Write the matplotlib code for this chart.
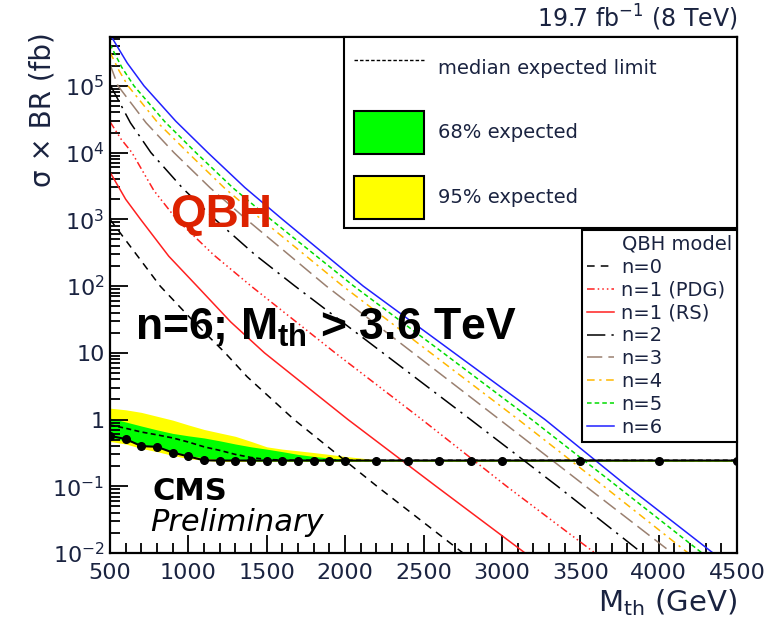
import numpy as np
import matplotlib
matplotlib.use("Agg")
import matplotlib.pyplot as plt
from matplotlib.lines import Line2D
from matplotlib.patches import Patch
from matplotlib.ticker import MultipleLocator, FixedLocator, NullFormatter, FuncFormatter

plt.rcParams['font.family'] = ['DejaVu Sans']
plt.rcParams['mathtext.fontset'] = 'custom'
plt.rcParams['mathtext.rm'] = 'DejaVu Sans'
plt.rcParams['mathtext.it'] = 'DejaVu Sans:italic'
plt.rcParams['mathtext.bf'] = 'Liberation Sans:bold'

# expected / observed limits (fb)
lim_mass = [500, 600, 700, 800, 900, 1000, 1100, 1200, 1300, 1400, 1500, 1600,
            1700, 1800, 1900, 2000, 2200, 2400, 2600, 2800, 3000, 3500, 4000, 4500]
observed = [0.57, 0.51, 0.40, 0.39, 0.32, 0.28, 0.245, 0.243, 0.243, 0.243, 0.243, 0.243,
            0.243, 0.243, 0.243, 0.243, 0.243, 0.243, 0.243, 0.243, 0.243, 0.243, 0.243, 0.243]
expected = [0.83, 0.74, 0.65, 0.59, 0.53, 0.46, 0.39, 0.345, 0.30, 0.27, 0.252, 0.247,
            0.245, 0.245, 0.245, 0.245, 0.245, 0.245, 0.245, 0.245, 0.245, 0.245, 0.245, 0.245]
band68_hi = [1.05, 0.92, 0.80, 0.70, 0.62, 0.57, 0.53, 0.48, 0.43, 0.39, 0.36, 0.33,
             0.30, 0.28, 0.265, 0.255, 0.245, 0.245, 0.245, 0.245, 0.245, 0.245, 0.245, 0.245]
band68_lo = [0.53, 0.48, 0.42, 0.38, 0.33, 0.29, 0.265, 0.25, 0.245, 0.24, 0.24, 0.24,
             0.24, 0.24, 0.24, 0.24, 0.24, 0.24, 0.24, 0.24, 0.24, 0.24, 0.24, 0.24]
band95_hi = [1.48, 1.40, 1.28, 1.12, 0.98, 0.83, 0.71, 0.63, 0.56, 0.47, 0.39, 0.36,
             0.34, 0.32, 0.30, 0.28, 0.25, 0.245, 0.245, 0.245, 0.245, 0.245, 0.245, 0.245]
band95_lo = [0.47, 0.43, 0.37, 0.33, 0.29, 0.26, 0.245, 0.235, 0.235, 0.235, 0.235, 0.235,
             0.235, 0.235, 0.235, 0.235, 0.235, 0.235, 0.235, 0.235, 0.235, 0.235, 0.235, 0.235]

# QBH model cross sections (fb)
n0_mass = [500, 647, 820, 1030, 1234, 1374, 1674, 2203, 2752]
n0_xs = [1000, 347, 100, 30, 10, 4.4, 1, 0.1, 0.01]
pdg_mass = [500, 570, 640, 780, 925, 1160, 1400, 1936, 2490, 3030, 3594]
pdg_xs = [2.9e4, 1.6e4, 1e4, 2.7e3, 1e3, 295, 100, 10, 1, 0.1, 0.01]
rs_mass = [500, 600, 695, 875, 1055, 1270, 1485, 2018, 2580, 3148]
rs_xs = [5.1e3, 2.0e3, 1e3, 280, 100, 29, 10, 1, 0.1, 0.01]
n2_mass = [500, 630, 761, 965, 1170, 1425, 1680, 2240, 2800, 3355, 3894]
n2_xs = [1.05e5, 2.8e4, 1e4, 2.9e3, 1e3, 295, 100, 10, 1, 0.1, 0.01]
n3_mass = [500, 551, 730, 908, 1140, 1370, 1880, 2433, 2985, 3535, 4086]
n3_xs = [2.1e5, 1e5, 2.8e4, 1e4, 2.95e3, 1e3, 100, 10, 1, 0.1, 0.01]
n4_mass = [500, 557, 615, 805, 997, 1230, 1465, 1985, 2545, 3105, 3650, 4188]
n4_xs = [3.2e5, 1.7e5, 1e5, 2.8e4, 1e4, 2.95e3, 1e3, 100, 10, 1, 0.1, 0.01]
n5_mass = [500, 575, 653, 850, 1048, 1285, 1525, 2055, 2625, 3190, 3735, 4277]
n5_xs = [4.2e5, 1.9e5, 1e5, 2.9e4, 1e4, 2.95e3, 1e3, 100, 10, 1, 0.1, 0.01]
n6_mass = [500, 610, 717, 920, 1124, 1360, 1600, 2115, 2695, 3275, 3800, 4347]
n6_xs = [5.9e5, 2.2e5, 1e5, 2.95e4, 1e4, 3.0e3, 1e3, 100, 10, 1, 0.1, 0.01]

# axis ticks
y_major = [1e-2, 1e-1, 1, 10, 1e2, 1e3, 1e4, 1e5]
y_minor = [m * d for d in y_major for m in range(2, 10) if m * d < 5.4e5]

fig = plt.figure(figsize=(7.77, 6.21), dpi=100)
ax = fig.add_axes([110/777, 1-553/621, 627/777, 516/621])

ax.fill_between(lim_mass, band95_lo, band95_hi, color='#ffff00', lw=0)
ax.fill_between(lim_mass, band68_lo, band68_hi, color='#00ff00', lw=0)

models = [
    (n0_mass, n0_xs, 'black', (0, (5, 4)), 'n=0'),
    (pdg_mass, pdg_xs, '#ff2020', (0, (5, 2, 1, 2, 1, 2, 1, 2)), 'n=1 (PDG)'),
    (rs_mass, rs_xs, '#ff2020', '-', 'n=1 (RS)'),
    (n2_mass, n2_xs, 'black', (0, (12, 4, 1.5, 4)), 'n=2'),
    (n3_mass, n3_xs, '#9a8070', (0, (10, 4)), 'n=3'),
    (n4_mass, n4_xs, '#ffb800', (0, (5, 3, 1.5, 3)), 'n=4'),
    (n5_mass, n5_xs, '#00dd00', (0, (3, 2)), 'n=5'),
    (n6_mass, n6_xs, '#2020ff', '-', 'n=6'),
]
model_lines = []
for m, xs, c, ls, lab in models:
    ln, = ax.plot(m, xs, color=c, ls=ls, lw=1.1, label=lab)
    model_lines.append(ln)

ax.plot(lim_mass, expected, color='black', ls=(0, (3, 2)), lw=1.2)
ax.plot(lim_mass, observed, color='black', lw=1.5, marker='o', ms=5.5)

ax.set_yscale('log')
ax.set_xlim(500, 4500)
ax.set_ylim(1e-2, 5.4e5)

ax.xaxis.set_major_locator(MultipleLocator(500))
ax.xaxis.set_minor_locator(MultipleLocator(100))
ax.yaxis.set_major_locator(FixedLocator(y_major))
ax.yaxis.set_minor_locator(FixedLocator(y_minor))
ax.yaxis.set_minor_formatter(NullFormatter())


def yfmt(v, pos):
    e = int(round(np.log10(v)))
    if e == 0:
        return '1'
    if e == 1:
        return '10'
    return r'$10^{%d}$' % e


ax.yaxis.set_major_formatter(FuncFormatter(yfmt))

txtcol = '#1a2340'
ax.tick_params(which='both', direction='in', top=False, right=False, width=1.3, colors='black',
               labelcolor=txtcol, labelsize=16)
ax.tick_params(axis='x', which='major', length=13, pad=7)
ax.tick_params(axis='x', which='minor', length=7)
ax.tick_params(axis='y', which='major', length=13, pad=4)
ax.tick_params(axis='y', which='minor', length=7)
for s in ax.spines.values():
    s.set_linewidth(1.6)

ax.set_ylabel('σ × BR (fb)', fontsize=20, color=txtcol, loc='top')
ax.yaxis.set_label_coords(-0.085, 1.01)
ax.set_xlabel(r'M$_{\rm th}$ (GeV)', fontsize=21, color=txtcol, loc='right')
ax.xaxis.set_label_coords(1.0, -0.066)

# legends
h1 = [Line2D([], [], color='black', ls=(0, (2.5, 1.5)), lw=1),
      Patch(facecolor='#00ff00', edgecolor='black', lw=1.5),
      Patch(facecolor='#ffff00', edgecolor='black', lw=1.5)]
leg1 = ax.legend(h1, ['median expected limit', '68% expected', '95% expected'],
                 loc='upper left', bbox_to_anchor=(0.373, 1.0, 0.627, 0), mode='expand',
                 borderaxespad=0, fontsize=14, handlelength=3.6, handleheight=3.0,
                 labelspacing=1.13, handletextpad=0.72, borderpad=0.5, fancybox=False,
                 edgecolor='black', framealpha=1, labelcolor=txtcol)
leg1.get_frame().set_linewidth(1.5)
ax.add_artist(leg1)

leg2 = ax.legend(model_lines, [ln.get_label() for ln in model_lines], title='QBH model',
                 loc='upper left', bbox_to_anchor=(0.753, 0.626, 0.247, 0), mode='expand',
                 borderaxespad=0, fontsize=14, title_fontsize=14, handlelength=1.4,
                 handletextpad=0.35, labelspacing=0.2, borderpad=0.25, fancybox=False,
                 edgecolor='black', framealpha=1, labelcolor=txtcol, alignment='right')
leg2.get_frame().set_linewidth(1.5)
leg2.get_title().set_color(txtcol)

ax.text(0.096, 0.632, 'QBH', transform=ax.transAxes, fontsize=33, fontweight='bold',
        color='#dd2200', va='baseline', family='Liberation Sans')
ax.text(0.040, 0.413, r'n=6; M$_{\mathbf{th}}$ > 3.6 TeV', transform=ax.transAxes,
        fontsize=32, fontweight='bold', color='black', va='baseline', family='Liberation Sans')
ax.text(0.067, 0.103, 'CMS', transform=ax.transAxes, fontsize=22, fontweight='bold',
        color='black', va='baseline')
ax.text(0.064, 0.043, 'Preliminary', transform=ax.transAxes, fontsize=22, style='italic',
        color='black', va='baseline')
fig.text(737/777, 1-27/621, r'19.7 fb$^{{-}1}$ (8 TeV)', fontsize=17, color=txtcol,
         ha='right', va='baseline')

fig.savefig('out.png', dpi=100)
